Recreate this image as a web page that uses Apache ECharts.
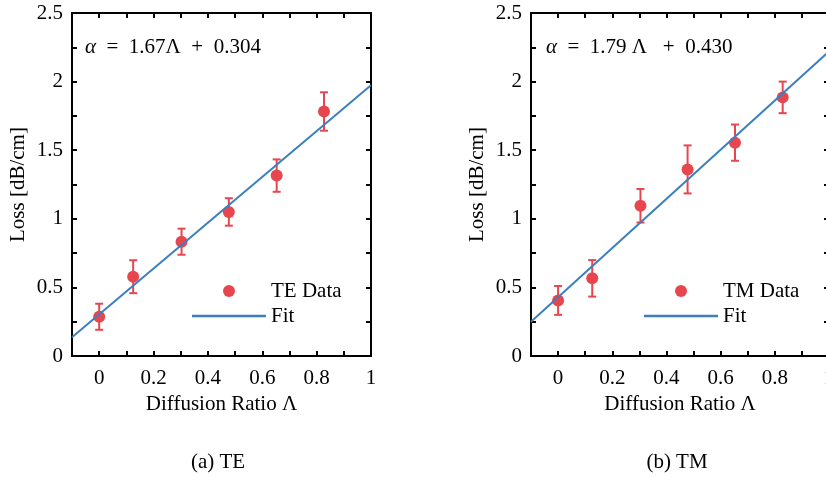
<!DOCTYPE html>
<html>
<head>
<meta charset="utf-8">
<script src="https://cdn.jsdelivr.net/npm/echarts@6/dist/echarts.min.js"></script>
<style>
  html, body { margin: 0; padding: 0; background: #fff; }
  #chart { width: 826px; height: 477px; }
</style>
</head>
<body>
<div id="chart"></div>
<script>
// data
var ratioTE = [0, 0.125, 0.303, 0.477, 0.653, 0.827];
var lossTE = [0.286, 0.578, 0.833, 1.05, 1.315, 1.782];
var errTE = [0.095, 0.12, 0.095, 0.1, 0.118, 0.14];

var ratioTM = [0, 0.126, 0.304, 0.478, 0.653, 0.829];
var lossTM = [0.405, 0.566, 1.095, 1.36, 1.555, 1.885];
var errTM = [0.105, 0.133, 0.122, 0.175, 0.132, 0.115];

// fit line end points (at the plot edges)
var fitTE = [[-0.1, 0.137], [1.0, 1.974]];
var fitTM = [[-0.1, 0.25], [1.0, 2.22]];

var xTicks = [0, 0.2, 0.4, 0.6, 0.8, 1];
var yTicks = [0, 0.5, 1, 1.5, 2, 2.5];

var FONT = "Liberation Serif";
var FS = 21;
var RED = "#e8464f";
var BLUE = "#3a7fc0";

function pairs(xs, ys, es) {
  return xs.map(function (x, i) {
    return es ? [x, ys[i], es[i]] : [x, ys[i]];
  });
}

function inList(list, v) {
  for (var i = 0; i < list.length; i++) {
    if (Math.abs(list[i] - v) < 1e-6) return true;
  }
  return false;
}

function xAxisFor(grid, top) {
  return {
    gridIndex: grid,
    type: "value",
    position: top ? "top" : "bottom",
    min: -0.1,
    max: 1,
    interval: 0.1,
    axisLine: { onZero: false, lineStyle: { color: "#000", width: 2 } },
    axisTick: { inside: true, length: 5, lineStyle: { color: "#000", width: 2 } },
    axisLabel: {
      show: !top,
      margin: 12,
      color: "#000",
      fontFamily: FONT,
      fontSize: FS,
      formatter: function (v) {
        return inList(xTicks, v) ? String(+v.toFixed(1)) : "";
      }
    },
    splitLine: { show: false },
    name: top ? "" : "Diffusion Ratio Λ",
    nameLocation: "middle",
    nameGap: 35,
    nameTextStyle: { color: "#000", fontFamily: FONT, fontSize: FS }
  };
}

function yAxisFor(grid, right) {
  return {
    gridIndex: grid,
    type: "value",
    position: right ? "right" : "left",
    min: 0,
    max: 2.5,
    interval: 0.25,
    axisLine: { onZero: false, lineStyle: { color: "#000", width: 2 } },
    axisTick: { inside: true, length: 5, lineStyle: { color: "#000", width: 2 } },
    axisLabel: {
      show: !right,
      margin: 9,
      color: "#000",
      fontFamily: FONT,
      fontSize: FS,
      formatter: function (v) {
        return inList(yTicks, v) ? String(+v.toFixed(1)) : "";
      }
    },
    splitLine: { show: false },
    name: right ? "" : "Loss [dB/cm]",
    nameLocation: "middle",
    nameGap: 43,
    nameTextStyle: { color: "#000", fontFamily: FONT, fontSize: FS }
  };
}

// error bars: vertical line with caps
function errorBar(params, api) {
  var x = api.value(0), y = api.value(1), e = api.value(2);
  var top = api.coord([x, y + e]);
  var bot = api.coord([x, y - e]);
  var w = 4;
  var style = { stroke: RED, lineWidth: 2 };
  return {
    type: "group",
    children: [
      { type: "line", shape: { x1: top[0], y1: top[1], x2: bot[0], y2: bot[1] }, style: style },
      { type: "line", shape: { x1: top[0] - w, y1: top[1], x2: top[0] + w, y2: top[1] }, style: style },
      { type: "line", shape: { x1: bot[0] - w, y1: bot[1], x2: bot[0] + w, y2: bot[1] }, style: style }
    ]
  };
}

function seriesFor(grid, dataName, xs, ys, es, fit) {
  return [
    {
      type: "custom",
      xAxisIndex: grid * 2,
      yAxisIndex: grid * 2,
      renderItem: errorBar,
      data: pairs(xs, ys, es),
      encode: { x: 0, y: 1 },
      silent: true
    },
    {
      name: dataName,
      type: "scatter",
      xAxisIndex: grid * 2,
      yAxisIndex: grid * 2,
      symbol: "circle",
      symbolSize: 12,
      itemStyle: { color: RED, opacity: 1 },
      data: pairs(xs, ys)
    },
    {
      name: "Fit",
      type: "line",
      xAxisIndex: grid * 2,
      yAxisIndex: grid * 2,
      symbol: "none",
      lineStyle: { color: BLUE, width: 2 },
      itemStyle: { color: BLUE },
      data: fit
    }
  ];
}

function legendAt(left, name) {
  return {
    left: left,
    top: 280,
    orient: "vertical",
    padding: 0,
    itemWidth: 74,
    itemHeight: 12,
    itemGap: 3,
    selectedMode: false,
    data: [
      { name: name, icon: "circle" },
      { name: "Fit", icon: "path://M0,0L74,0L74,2.5L0,2.5Z", itemStyle: { color: BLUE } }
    ],
    textStyle: { color: "#000", fontFamily: FONT, fontSize: FS, lineHeight: 22 }
  };
}

function label(x, y, text, align) {
  return {
    type: "text",
    x: x,
    y: y,
    style: {
      text: text,
      align: align,
      verticalAlign: "middle",
      fill: "#000",
      font: FS + "px '" + FONT + "'",
      rich: { i: { fontStyle: "italic", fontFamily: FONT, fontSize: FS } }
    }
  };
}

var chart = echarts.init(document.getElementById("chart"));
chart.setOption({
  backgroundColor: "#fff",
  animation: false,
  grid: [
    { left: 72, top: 13, width: 299, height: 343, outerBoundsMode: "none" },
    { left: 531, top: 13, width: 298, height: 343, outerBoundsMode: "none" }
  ],
  xAxis: [xAxisFor(0, false), xAxisFor(0, true), xAxisFor(1, false), xAxisFor(1, true)],
  yAxis: [yAxisFor(0, false), yAxisFor(0, true), yAxisFor(1, false), yAxisFor(1, true)],
  legend: [legendAt(192, "TE Data"), legendAt(644, "TM Data")],
  graphic: [
    label(85, 47, "{i|α}  =  1.67Λ  +  0.304", "left"),
    label(546, 47, "{i|α}  =  1.79 Λ   +  0.430", "left"),
    label(218, 462, "(a) TE", "center"),
    label(677, 462, "(b) TM", "center")
  ],
  series: seriesFor(0, "TE Data", ratioTE, lossTE, errTE, fitTE)
    .concat(seriesFor(1, "TM Data", ratioTM, lossTM, errTM, fitTM))
});
</script>
</body>
</html>
